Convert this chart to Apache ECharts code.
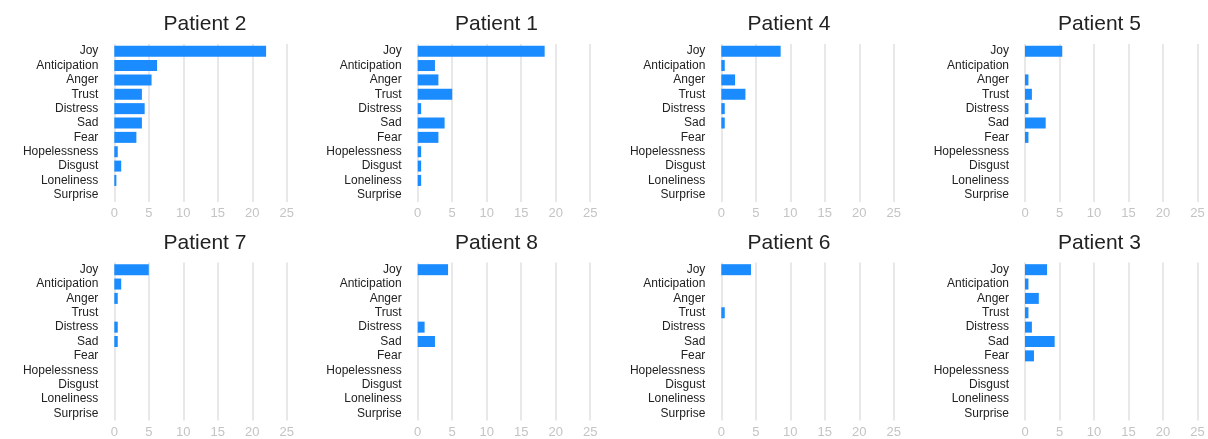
<!DOCTYPE html>
<html>
<head>
<meta charset="utf-8">
<script src="https://cdn.jsdelivr.net/npm/echarts@6/dist/echarts.min.js"></script>
<style>
html,body{margin:0;padding:0;background:#fff;}
#c{width:1208px;height:439px;}
</style>
</head>
<body>
<div id="c"></div>
<script>
var categories = ['Joy','Anticipation','Anger','Trust','Distress','Sad','Fear','Hopelessness','Disgust','Loneliness','Surprise'];
var xTicks = [0,5,10,15,20,25];
var panelTitles = ['Patient 2','Patient 1','Patient 4','Patient 5','Patient 7','Patient 8','Patient 6','Patient 3'];

var patient2 = [22, 6.2, 5.4, 4, 4.4, 4, 3.2, 0.5, 1, 0.3, 0];
var patient1 = [18.4, 2.5, 3, 5, 0.5, 3.9, 3, 0.5, 0.5, 0.5, 0];
var patient4 = [8.6, 0.5, 2, 3.5, 0.5, 0.5, 0, 0, 0, 0, 0];
var patient5 = [5.4, 0, 0.5, 1, 0.5, 3, 0.5, 0, 0, 0, 0];
var patient7 = [5, 1, 0.5, 0, 0.5, 0.5, 0, 0, 0, 0, 0];
var patient8 = [4.4, 0, 0, 0, 1, 2.5, 0, 0, 0, 0, 0];
var patient6 = [4.3, 0, 0, 0.5, 0, 0, 0, 0, 0, 0, 0];
var patient3 = [3.2, 0.5, 2, 0.5, 1, 4.3, 1.3, 0, 0, 0, 0];

var panelData = [patient2, patient1, patient4, patient5, patient7, patient8, patient6, patient3];

var chart = echarts.init(document.getElementById('c'));
var zeroX = [114.3, 417.7, 721.3, 1025];
var gridW = 172.5;
var titleX = [205, 496.5, 789, 1099.5];
var rowTop = [44, 262.5];
var gridH = 158;
var titleTop = [14, 232.5];

var grids = [], xAxes = [], yAxes = [], series = [], titles = [];
for (var i = 0; i < 8; i++) {
  var col = i % 4, row = Math.floor(i / 4);
  grids.push({left: zeroX[col], top: rowTop[row], width: gridW, height: gridH, containLabel: false});
  titles.push({
    text: panelTitles[i], left: titleX[col], top: titleTop[row], textAlign: 'center', padding: 0,
    textStyle: {fontFamily: 'Liberation Sans', fontSize: 21, fontWeight: 'normal', color: '#222'}
  });
  xAxes.push({
    type: 'value', gridIndex: i, min: xTicks[0], max: xTicks[xTicks.length - 1], interval: 5,
    axisLine: {show: false}, axisTick: {show: false},
    axisLabel: {margin: 5, color: '#c4c4c4', fontSize: 13, fontFamily: 'Liberation Sans'},
    splitLine: {show: true, lineStyle: {color: '#e8e8e8', width: 2}}
  });
  yAxes.push({
    type: 'category', gridIndex: i, data: categories, inverse: true,
    axisLine: {show: false}, axisTick: {show: false},
    axisLabel: {interval: 0, margin: 16, color: '#222', fontSize: 12, fontFamily: 'Liberation Sans'},
    splitLine: {show: false}
  });
  series.push({
    type: 'bar', xAxisIndex: i, yAxisIndex: i, data: panelData[i],
    barWidth: 11, itemStyle: {color: '#1a8cff'}, silent: true
  });
}

chart.setOption({
  animation: false,
  title: titles,
  grid: grids,
  xAxis: xAxes,
  yAxis: yAxes,
  series: series
});
</script>
</body>
</html>
